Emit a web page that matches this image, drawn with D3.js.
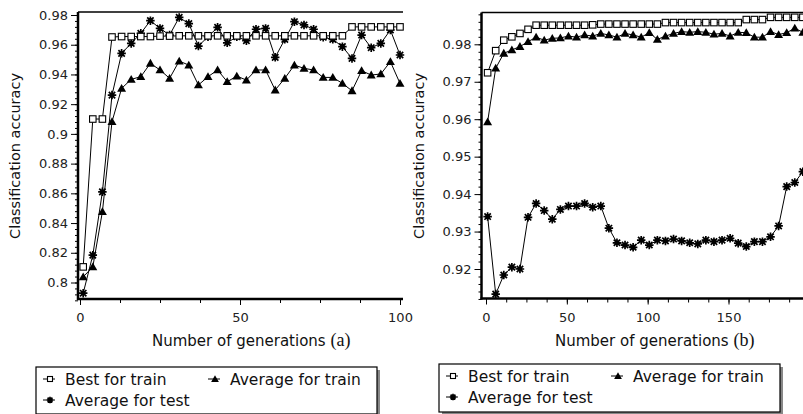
<!DOCTYPE html>
<html>
<head>
<meta charset="utf-8">
<script src="https://cdn.jsdelivr.net/npm/d3@7"></script>
<style>
  body { margin: 0; background: #fff; }
  svg { display: block; }
</style>
</head>
<body>
<svg width="803" height="414"></svg>
<script>
// panel (a) data
var genA = [1, 4, 7, 10, 13, 16, 19, 22, 25, 28, 31, 34, 37, 40, 43, 46, 49, 52, 55, 58,
            61, 64, 67, 70, 73, 76, 79, 82, 85, 88, 91, 94, 97, 100]
var bestTrainA = [0.8105, 0.9100, 0.9100, 0.9652, 0.9655, 0.9655, 0.9655, 0.9655, 0.9658, 0.9658,
                  0.9660, 0.9660, 0.9660, 0.9660, 0.9660, 0.9660, 0.9660, 0.9660, 0.9660, 0.9660,
                  0.9660, 0.9660, 0.9660, 0.9660, 0.9660, 0.9660, 0.9660, 0.9660, 0.9720, 0.9720,
                  0.9720, 0.9720, 0.9720, 0.9720]
var avgTrainA = [0.8038, 0.8105, 0.8476, 0.9082, 0.9306, 0.9367, 0.9385, 0.9475, 0.9430, 0.9374,
                 0.9490, 0.9463, 0.9329, 0.9385, 0.9430, 0.9351, 0.9389, 0.9362, 0.9430, 0.9430,
                 0.9295, 0.9374, 0.9463, 0.9441, 0.9430, 0.9380, 0.9380, 0.9340, 0.9290, 0.9425,
                 0.9396, 0.9403, 0.9486, 0.9340]
var avgTestA = [0.7928, 0.8184, 0.8610, 0.9261, 0.9542, 0.9609, 0.9677, 0.9762, 0.9710, 0.9665,
                0.9784, 0.9742, 0.9591, 0.9654, 0.9717, 0.9613, 0.9654, 0.9627, 0.9704, 0.9710,
                0.9515, 0.9636, 0.9755, 0.9733, 0.9704, 0.9650, 0.9636, 0.9587, 0.9508, 0.9665,
                0.9580, 0.9609, 0.9699, 0.9531]

// panel (b) data
var genB = [1, 6, 11, 16, 21, 26, 31, 36, 41, 46, 51, 56, 61, 66, 71, 76, 81, 86, 91, 96,
            101, 106, 111, 116, 121, 126, 131, 136, 141, 146, 151, 156, 161, 166, 171, 176, 181, 186, 191, 196]
var bestTrainB = [0.9724, 0.9783, 0.9811, 0.9820, 0.9829, 0.9840, 0.9851, 0.9851, 0.9851, 0.9851,
                  0.9851, 0.9851, 0.9851, 0.9852, 0.9854, 0.9854, 0.9854, 0.9854, 0.9854, 0.9854,
                  0.9854, 0.9854, 0.9858, 0.9858, 0.9858, 0.9858, 0.9858, 0.9858, 0.9858, 0.9858,
                  0.9858, 0.9858, 0.9866, 0.9866, 0.9866, 0.9872, 0.9872, 0.9872, 0.9872, 0.9872]
var avgTrainB = [0.9593, 0.9736, 0.9776, 0.9785, 0.9794, 0.9807, 0.9819, 0.9811, 0.9816, 0.9817,
                 0.9822, 0.9819, 0.9825, 0.9822, 0.9829, 0.9825, 0.9819, 0.9829, 0.9825, 0.9819,
                 0.9831, 0.9813, 0.9822, 0.9829, 0.9834, 0.9832, 0.9834, 0.9832, 0.9827, 0.9829,
                 0.9822, 0.9832, 0.9831, 0.9819, 0.9819, 0.9834, 0.9826, 0.9831, 0.9843, 0.9832]
var avgTestB = [0.9340, 0.9133, 0.9184, 0.9205, 0.9200, 0.9338, 0.9375, 0.9356, 0.9333, 0.9359,
                0.9368, 0.9368, 0.9375, 0.9365, 0.9368, 0.9309, 0.9270, 0.9264, 0.9258, 0.9277,
                0.9264, 0.9277, 0.9275, 0.9280, 0.9275, 0.9270, 0.9267, 0.9277, 0.9273, 0.9277,
                0.9282, 0.9269, 0.9260, 0.9273, 0.9273, 0.9286, 0.9315, 0.9420, 0.9431, 0.9460]

var yTicksA = [0.8, 0.82, 0.84, 0.86, 0.88, 0.9, 0.92, 0.94, 0.96, 0.98]
var yTicksB = [0.92, 0.93, 0.94, 0.95, 0.96, 0.97, 0.98]
var xTicksA = [0, 50, 100]
var xTicksB = [0, 50, 100, 150]
var seriesNames = ["Best for train", "Average for train", "Average for test"]

var FONT = "DejaVu Sans, Verdana, sans-serif"
var svg = d3.select("svg")

// marker drawing, kind: 0 square, 1 triangle, 2 star
function marker(g, kind, x, y, s) {
  if (kind == 0) {
    g.append("rect")
      .attr("x", x - s / 2).attr("y", y - s / 2)
      .attr("width", s).attr("height", s)
      .attr("fill", "#fff").attr("stroke", "#000").attr("stroke-width", 1.1)
  } else if (kind == 1) {
    g.append("path")
      .attr("transform", "translate(" + x + "," + (y + s * 0.1) + ")")
      .attr("d", d3.symbol().type(d3.symbolTriangle).size(s * s * 0.62)())
      .attr("fill", "#000")
  } else {
    var r = s / 2
    g.append("path")
      .attr("d", "M" + (x - r) + "," + y + "H" + (x + r) + "M" + x + "," + (y - r) + "V" + (y + r) +
                 "M" + (x - r * 0.75) + "," + (y - r * 0.75) + "L" + (x + r * 0.75) + "," + (y + r * 0.75) +
                 "M" + (x - r * 0.75) + "," + (y + r * 0.75) + "L" + (x + r * 0.75) + "," + (y - r * 0.75))
      .attr("stroke", "#000").attr("stroke-width", 1.7).attr("fill", "none")
    g.append("circle").attr("cx", x).attr("cy", y).attr("r", r * 0.55).attr("fill", "#000")
  }
}

function drawPanel(p) {
  var x = d3.scaleLinear().domain([0, p.xMax]).range([p.x0, p.x1])
  var y = d3.scaleLinear().domain([p.yLo, p.yHi]).range([p.yLoPx, p.yHiPx])
  var g = svg.append("g")

  // top frame line
  g.append("line")
    .attr("x1", p.axisX).attr("x2", p.right)
    .attr("y1", p.top).attr("y2", p.top)
    .attr("stroke", "#000").attr("stroke-width", 1.3)

  // y axis: minor ticks, then major with labels
  var yMinor = g.append("g").attr("transform", "translate(" + p.axisX + ",0)")
    .call(d3.axisLeft(y).tickValues(p.yMinor).tickSize(3).tickFormat(""))
  yMinor.select(".domain").remove()
  var yAx = g.append("g").attr("transform", "translate(" + p.axisX + ",0)")
    .call(d3.axisLeft(y).tickValues(p.yTicks).tickSize(7).tickPadding(3).tickFormat(d3.format("")))
  yAx.select(".domain").remove()
  yAx.selectAll("text").attr("font-family", FONT).attr("font-size", 13).attr("fill", "#222")

  // x axis
  var xMinor = g.append("g").attr("transform", "translate(0," + p.axisY + ")")
    .call(d3.axisBottom(x).tickValues(p.xMinor).tickSize(4).tickFormat(""))
  xMinor.select(".domain").remove()
  var xAx = g.append("g").attr("transform", "translate(0," + p.axisY + ")")
    .call(d3.axisBottom(x).tickValues(p.xTicks).tickSize(6).tickPadding(8))
  xAx.select(".domain").remove()
  xAx.selectAll("text").attr("font-family", FONT).attr("font-size", 13).attr("fill", "#222")

  // heavy axis lines
  g.append("line")
    .attr("x1", p.axisX).attr("x2", p.axisX).attr("y1", p.top).attr("y2", p.axisY + 1)
    .attr("stroke", "#000").attr("stroke-width", 2.5)
  g.append("line")
    .attr("x1", p.axisX - 1).attr("x2", p.right).attr("y1", p.axisY).attr("y2", p.axisY)
    .attr("stroke", "#000").attr("stroke-width", 2.5)

  // series
  var line = d3.line().x(function(d) { return x(d[0]) }).y(function(d) { return y(d[1]) })
  var order = [2, 1, 0]
  order.forEach(function(k) {
    var pts = p.gen.map(function(gv, i) { return [gv, p.series[k][i]] })
    g.append("path").attr("d", line(pts))
      .attr("fill", "none").attr("stroke", "#000").attr("stroke-width", 1)
  })
  order.forEach(function(k) {
    var mg = g.append("g")
    p.gen.forEach(function(gv, i) {
      marker(mg, k, x(gv), y(p.series[k][i]), k == 0 ? 6.5 : (k == 1 ? 7.5 : 8.5))
    })
  })

  // axis titles
  svg.append("text")
    .attr("transform", "translate(" + p.yLabelX + ",156) rotate(-90)")
    .attr("text-anchor", "middle")
    .attr("font-family", FONT).attr("font-size", 14.5).attr("fill", "#111")
    .text("Classification accuracy")
  var t = svg.append("text")
    .attr("x", p.xLabelX).attr("y", 346)
    .attr("font-family", FONT).attr("font-size", 15).attr("fill", "#111")
  t.append("tspan").text(p.xLabel)
  t.append("tspan").attr("font-family", "Liberation Serif, serif").attr("font-size", 18).text(p.tag)

  // legend with shadow
  var L = p.legend
  svg.append("rect").attr("x", L.x + 3).attr("y", L.y + 3).attr("width", L.w).attr("height", L.h)
    .attr("fill", "#888")
  svg.append("rect").attr("x", L.x).attr("y", L.y).attr("width", L.w).attr("height", L.h)
    .attr("fill", "#fff").attr("stroke", "#000").attr("stroke-width", 1.2)
  var spots = [[L.x + 7, L.y + 12], [L.x + 172, L.y + 12], [L.x + 7, L.y + 33]]
  seriesNames.forEach(function(name, k) {
    var sx = spots[k][0], sy = spots[k][1]
    svg.append("line").attr("x1", sx).attr("x2", sx + 12).attr("y1", sy).attr("y2", sy)
      .attr("stroke", "#000").attr("stroke-width", 1)
    marker(svg, k, sx + 7, sy, k == 0 ? 5 : 6.5)
    svg.append("text").attr("x", sx + 22).attr("y", sy + 5.5)
      .attr("font-family", FONT).attr("font-size", 15.5).attr("fill", "#111")
      .text(name)
  })
}

drawPanel({
  gen: genA, series: [bestTrainA, avgTrainA, avgTestA],
  xMax: 100, x0: 80, x1: 400,
  yLo: 0.8, yHi: 0.98, yLoPx: 282.5, yHiPx: 15,
  axisX: 78, axisY: 299, top: 12, right: 403,
  yTicks: yTicksA, yMinor: d3.range(0.788, 0.981, 0.004),
  xTicks: xTicksA, xMinor: d3.range(0, 100.1, 12.5),
  yLabelX: 20, xLabelX: 152, xLabel: "Number of generations ", tag: "(a)",
  legend: { x: 36, y: 367, w: 341, h: 47 }
})

drawPanel({
  gen: genB, series: [bestTrainB, avgTrainB, avgTestB],
  xMax: 150, x0: 486, x1: 728.5,
  yLo: 0.92, yHi: 0.98, yLoPx: 269, yHiPx: 44.3,
  axisX: 481.5, axisY: 298.5, top: 12.5, right: 803,
  yTicks: yTicksB, yMinor: d3.range(0.912, 0.9885, 0.002),
  xTicks: xTicksB, xMinor: d3.range(0, 200.1, 12.5),
  yLabelX: 424, xLabelX: 555, xLabel: "Number of generations  ", tag: "(b)",
  legend: { x: 439, y: 364, w: 341, h: 48 }
})
</script>
</body>
</html>
